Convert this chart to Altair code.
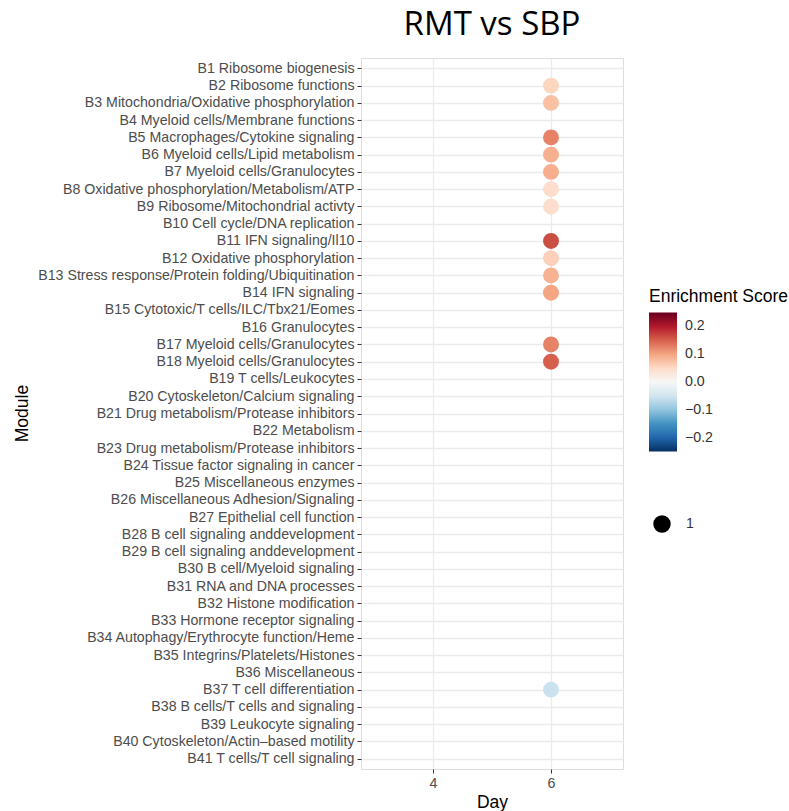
import altair as alt
import pandas as pd

modules = [
    "B1 Ribosome biogenesis",
    "B2 Ribosome functions",
    "B3 Mitochondria/Oxidative phosphorylation",
    "B4 Myeloid cells/Membrane functions",
    "B5 Macrophages/Cytokine signaling",
    "B6 Myeloid cells/Lipid metabolism",
    "B7 Myeloid cells/Granulocytes",
    "B8 Oxidative phosphorylation/Metabolism/ATP",
    "B9 Ribosome/Mitochondrial activty",
    "B10 Cell cycle/DNA replication",
    "B11 IFN signaling/Il10",
    "B12 Oxidative phosphorylation",
    "B13 Stress response/Protein folding/Ubiquitination",
    "B14 IFN signaling",
    "B15 Cytotoxic/T cells/ILC/Tbx21/Eomes",
    "B16 Granulocytes",
    "B17 Myeloid cells/Granulocytes",
    "B18 Myeloid cells/Granulocytes",
    "B19 T cells/Leukocytes",
    "B20 Cytoskeleton/Calcium signaling",
    "B21 Drug metabolism/Protease inhibitors",
    "B22 Metabolism",
    "B23 Drug metabolism/Protease inhibitors",
    "B24 Tissue factor signaling in cancer",
    "B25 Miscellaneous enzymes",
    "B26 Miscellaneous Adhesion/Signaling",
    "B27 Epithelial cell function",
    "B28 B cell signaling anddevelopment",
    "B29 B cell signaling anddevelopment",
    "B30 B cell/Myeloid signaling",
    "B31 RNA and DNA processes",
    "B32 Histone modification",
    "B33 Hormone receptor signaling",
    "B34 Autophagy/Erythrocyte function/Heme",
    "B35 Integrins/Platelets/Histones",
    "B36 Miscellaneous",
    "B37 T cell differentiation",
    "B38 B cells/T cells and signaling",
    "B39 Leukocyte signaling",
    "B40 Cytoskeleton/Actin\u2013based motility",
    "B41 T cells/T cell signaling",
]

# Points (all at Day 6)
point_modules = [
    "B2 Ribosome functions",
    "B3 Mitochondria/Oxidative phosphorylation",
    "B5 Macrophages/Cytokine signaling",
    "B6 Myeloid cells/Lipid metabolism",
    "B7 Myeloid cells/Granulocytes",
    "B8 Oxidative phosphorylation/Metabolism/ATP",
    "B9 Ribosome/Mitochondrial activty",
    "B11 IFN signaling/Il10",
    "B12 Oxidative phosphorylation",
    "B13 Stress response/Protein folding/Ubiquitination",
    "B14 IFN signaling",
    "B17 Myeloid cells/Granulocytes",
    "B18 Myeloid cells/Granulocytes",
    "B37 T cell differentiation",
]
point_days = [6] * len(point_modules)
point_scores = [0.055, 0.075, 0.125, 0.09, 0.092, 0.045, 0.045, 0.165, 0.06, 0.088, 0.10, 0.125, 0.15, -0.055]
point_counts = [1] * len(point_modules)

# RdBu (11-class) palette stops, low -> high
color_stops = [-0.25, -0.2, -0.15, -0.1, -0.05, 0.0, 0.05, 0.1, 0.15, 0.2, 0.25]
color_palette = ["#053061", "#2166ac", "#4393c3", "#92c5de", "#d1e5f0", "#f7f7f7",
                 "#fddbc7", "#f4a582", "#d6604d", "#b2182b", "#67001f"]
legend_values = [-0.2, -0.1, 0, 0.1, 0.2]

df = pd.DataFrame({
    "Module": point_modules,
    "Day": point_days,
    "Score": point_scores,
    "n": point_counts,
})

LABEL_FONT = "Liberation Sans"
LBL = 14.2
TTL = 17.5

chart = alt.Chart(df).mark_circle(opacity=1).encode(
    x=alt.X(
        "Day:Q",
        scale=alt.Scale(domain=[2.78, 7.22], nice=False, zero=False),
        axis=alt.Axis(
            values=[4, 6], title="Day", grid=True, gridColor="#ebebeb", gridWidth=1.3,
            domain=False, tickColor="#333333", tickSize=4, labelColor="#4d4d4d",
            labelFontSize=LBL, labelPadding=3, titleFontSize=TTL, titleFontWeight="normal",
            titleColor="#000000", titlePadding=3, labelFont=LABEL_FONT, titleFont=LABEL_FONT,
        ),
    ),
    y=alt.Y(
        "Module:N",
        sort=modules,
        scale=alt.Scale(domain=modules, type="point", padding=0.6),
        axis=alt.Axis(
            title="Module", grid=True, gridColor="#ebebeb", gridWidth=1.3,
            domain=False, tickColor="#333333", tickSize=4, labelColor="#4d4d4d",
            labelFontSize=LBL, labelPadding=3, titleFontSize=TTL, titleFontWeight="normal",
            titleColor="#000000", titleX=-330, titleY=355, labelFont=LABEL_FONT,
            titleFont=LABEL_FONT, labelLimit=400,
        ),
    ),
    color=alt.Color(
        "Score:Q",
        scale=alt.Scale(domain=color_stops, range=color_palette, interpolate="lab"),
        legend=alt.Legend(
            title="Enrichment Score", orient="none", legendX=288, legendY=230,
            gradientLength=139, gradientThickness=28, values=legend_values,
            format=".1f", titleFontSize=TTL, titleFontWeight="normal", titleColor="#000000",
            labelFontSize=LBL, labelColor="#333333", labelOffset=8, titlePadding=7,
            titleFont=LABEL_FONT, labelFont=LABEL_FONT, gradientStrokeWidth=0,
            titleLimit=300, direction="vertical",
        ),
    ),
    size=alt.Size(
        "n:Q",
        scale=alt.Scale(domain=[0, 1], range=[0, 254]),
        legend=alt.Legend(
            title=None, orient="none", legendX=292, legendY=457, values=[1], format="d",
            symbolFillColor="#000000", symbolStrokeColor="#000000", symbolType="circle",
            labelFontSize=LBL, labelColor="#333333", labelFont=LABEL_FONT, labelOffset=15,
        ),
    ),
).properties(
    width=262,
    height=711,
    title=alt.TitleParams(
        "RMT vs SBP", font="Open Sans", fontSize=33, fontWeight="normal",
        anchor="middle", baseline="alphabetic", offset=21, dy=31, color="#000000",
    ),
    autosize=alt.AutoSizeParams(type="none"),
    padding={"left": 361, "top": 58, "right": 166, "bottom": 42},
).configure_view(
    stroke="#333333", strokeWidth=1.2
).configure(background="white")

chart.save("out.html", embed_options={"renderer": "svg", "actions": False})
